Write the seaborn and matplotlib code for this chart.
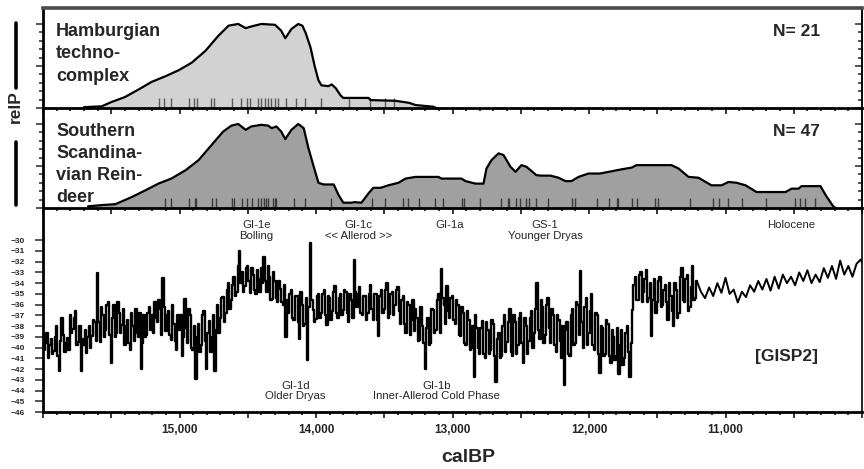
import numpy as np
import matplotlib
matplotlib.use("Agg")
import matplotlib.pyplot as plt
from matplotlib.lines import Line2D
from matplotlib.ticker import MultipleLocator, FixedLocator, FuncFormatter
import seaborn as sns

# --- Hamburgian techno-complex: summed probability (relP) -------------------
HAM_YEARS = [15700, 15570, 15500, 15400, 15300, 15205, 15100, 15005, 14910,
             14810, 14715, 14640, 14570, 14515, 14475, 14400, 14300, 14255,
             14225, 14180, 14130, 14100, 14075, 14040, 14010, 13982, 13960,
             13910, 13885, 13855, 13820, 13800, 13615, 13600, 13420, 13320,
             13270, 13140, 13120]
HAM_RELP = [0.01, 0.02, 0.07, 0.13, 0.22, 0.31, 0.38, 0.45, 0.54,
            0.68, 0.86, 0.98, 1.00, 0.95, 0.97, 1.00, 0.99, 0.92,
            0.83, 0.94, 1.00, 0.98, 0.89, 0.72, 0.50, 0.33, 0.27,
            0.26, 0.28, 0.235, 0.15, 0.12, 0.12, 0.094, 0.086, 0.062,
            0.035, 0.015, 0.0]
HAM_DATES = [15149, 15110, 15061, 14927, 14897, 14875, 14766, 14744, 14612,
             14548, 14502, 14480, 14426, 14401, 14372, 14348, 14328, 14304,
             14282, 14221, 14148, 14084, 13962, 13755, 13608, 13498, 13425]

# --- Southern Scandinavian Reindeer: summed probability (relP) --------------
SSR_YEARS = [15670, 15560, 15470, 15350, 15250, 15155, 15060, 14955, 14860,
             14765, 14680, 14620, 14570, 14515, 14475, 14400, 14350, 14325,
             14290, 14255, 14225, 14180, 14130, 14090, 14055, 14020, 13982,
             13945, 13870, 13835, 13800, 13740, 13718, 13667, 13615, 13580,
             13527, 13470, 13396, 13344, 13271, 13103, 13081, 12934, 12905,
             12832, 12773, 12751, 12714, 12663, 12626, 12575, 12538, 12495,
             12458, 12385, 12348, 12282, 12223, 12172, 12128, 12077, 12004,
             11920, 11857, 11762, 11689, 11652, 11396, 11344, 11271, 11198,
             11103, 11029, 10978, 10919, 10853, 10773, 10560, 10516, 10465,
             10443, 10304, 10267, 10209, 10190]
SSR_RELP = [0.02, 0.036, 0.045, 0.13, 0.21, 0.29, 0.35, 0.45, 0.57,
            0.75, 0.91, 0.98, 1.00, 0.93, 0.97, 0.99, 0.98, 0.95,
            0.97, 0.91, 0.82, 0.93, 1.00, 0.95, 0.71, 0.51, 0.30,
            0.28, 0.28, 0.155, 0.063, 0.063, 0.07, 0.063, 0.175, 0.24,
            0.24, 0.27, 0.30, 0.35, 0.37, 0.37, 0.35, 0.35, 0.32,
            0.29, 0.29, 0.47, 0.57, 0.65, 0.63, 0.49, 0.43, 0.51,
            0.49, 0.39, 0.385, 0.385, 0.36, 0.32, 0.32, 0.37, 0.41,
            0.41, 0.43, 0.46, 0.48, 0.51, 0.51, 0.47, 0.37, 0.36,
            0.27, 0.27, 0.31, 0.30, 0.27, 0.19, 0.19, 0.23, 0.23,
            0.26, 0.26, 0.155, 0.015, 0.0]
SSR_DATES = [15105, 15061, 14929, 14890, 14881, 14763, 14734, 14612, 14602,
             14544, 14504, 14470, 14426, 14401, 14382, 14368, 14348, 14314,
             14304, 14295, 14158, 14084, 13889, 13591, 13493, 13359, 13327,
             13249, 13127, 13073, 12932, 12917, 12797, 12643, 12595, 12585,
             12536, 12504, 12463, 12438, 12390, 12302, 12126, 12101, 11943,
             11857, 11796, 11789, 11686, 11650, 11515, 11491, 11259, 11088,
             11046, 10983, 10881, 10702, 10489, 10453, 10416, 10343]

# --- GISP2 d18O (per mil) --------------------------------------------------
# glacial part, samples on even decades (16000, 15980, ... 11220)
GISP_EVEN_YEARS = np.arange(16000, 11200, -20)
GISP_EVEN = [
    -38.8, -39.6, -41.0, -39.2, -40.3, -38.0, -42.2, -37.2, -40.4, -39.1,
    -37.0, -38.3, -36.6, -39.5, -42.2, -39.8, -40.5, -38.0, -38.9, -37.6,
    -33.1, -39.5, -37.0, -38.4, -35.8, -41.4, -36.0, -38.6, -36.8, -37.9,
    -39.8, -37.4, -40.2, -38.0, -36.4, -39.0, -42.0, -37.0, -38.8, -36.2,
    -37.0, -35.8, -37.6, -36.4, -33.5, -38.5, -36.6, -39.3, -37.8, -40.2,
    -38.4, -40.8, -35.5, -39.6, -37.0, -40.2, -42.9, -37.8, -39.8, -36.6,
    -42.0, -37.5, -39.0, -42.2, -36.0, -37.2, -35.3, -36.8, -34.0, -35.6,
    -33.4, -34.8, -31.0, -33.0, -34.3, -32.4, -34.9, -33.2, -35.0, -33.6,
    -32.6, -31.6, -34.8, -33.4, -35.5, -33.8, -35.8, -34.5, -36.0, -39.0,
    -36.8, -34.6, -37.4, -35.2, -39.2, -36.0, -37.8, -41.2, -30.3, -36.5,
    -37.3, -35.0, -36.8, -34.6, -37.9, -35.4, -36.6, -34.3, -37.2, -35.0,
    -36.5, -34.8, -37.6, -35.6, -31.8, -36.2, -34.4, -37.0, -35.2, -36.8,
    -34.2, -37.4, -35.0, -38.9, -34.6, -36.4, -34.0, -36.9, -34.8, -36.0,
    -34.4, -37.8, -35.2, -38.6, -36.0, -37.4, -38.5, -37.2, -39.3, -38.0,
    -42.0, -37.2, -39.6, -36.5, -38.4, -35.0, -32.7, -36.0, -34.3, -37.2,
    -35.2, -37.8, -36.0, -38.9, -36.8, -39.8, -37.4, -40.0, -42.7, -38.2,
    -40.6, -37.5, -41.0, -38.4, -40.2, -37.8, -43.2, -38.6, -40.8, -37.0,
    -39.5, -36.4, -40.8, -37.6, -39.8, -36.8, -41.4, -38.0, -39.4, -36.6,
    -38.6, -34.0, -39.2, -36.2, -38.8, -35.4, -39.6, -37.0, -40.4, -37.4,
    -41.0, -43.5, -37.6, -40.8, -36.4, -39.6, -36.0, -32.9, -40.0, -35.4,
    -38.6, -35.0, -40.2, -37.0, -42.4, -38.2, -40.6, -37.8, -41.4, -39.0,
    -40.8, -42.5, -38.4, -41.0, -38.0, -42.7, -36.5, -33.4, -35.6, -33.0,
    -34.8, -32.8, -35.4, -38.9, -33.6, -35.8, -33.4, -36.0, -34.2, -37.4,
    -35.2, -38.0, -34.6, -36.8, -32.6, -35.8, -33.2, -36.2, -32.4, -35.4,
]
# glacial part, samples on odd decades (15990, 15970, ... 11210)
GISP_ODD_YEARS = np.arange(15990, 11200, -20)
GISP_ODD = [
    -40.2, -38.6, -39.8, -40.6, -39.0, -40.8, -39.4, -38.8, -39.6, -40.2,
    -38.6, -37.2, -39.8, -38.0, -39.2, -38.4, -39.0, -40.0, -37.4, -39.4,
    -37.6, -36.2, -39.0, -36.0, -38.8, -37.2, -39.0, -35.8, -38.6, -36.4,
    -38.0, -39.6, -36.8, -39.4, -38.6, -36.8, -39.6, -39.0, -36.8, -38.4,
    -38.6, -37.2, -35.6, -38.8, -36.2, -37.0, -38.8, -36.0, -39.4, -37.0,
    -37.0, -39.0, -38.2, -36.4, -40.0, -38.0, -39.0, -40.4, -37.0, -39.4,
    -38.6, -40.4, -37.0, -38.4, -38.6, -35.4, -37.6, -34.6, -36.4, -34.2,
    -35.2, -32.4, -34.0, -34.8, -32.6, -33.8, -32.6, -34.6, -32.8, -34.8,
    -34.0, -33.8, -32.4, -35.6, -33.0, -35.4, -33.8, -35.8, -34.2, -35.6,
    -35.0, -37.2, -35.2, -37.6, -34.8, -38.0, -35.4, -36.2, -35.6, -37.6,
    -35.2, -37.2, -35.0, -37.0, -35.2, -37.4, -34.8, -36.8, -35.4, -37.0,
    -34.6, -36.8, -35.0, -37.2, -34.8, -35.0, -36.8, -35.2, -37.4, -35.0,
    -36.4, -35.0, -37.4, -35.2, -36.8, -34.6, -37.2, -35.0, -37.0, -34.6,
    -36.6, -35.6, -37.8, -35.8, -38.8, -35.6, -36.4, -39.4, -36.2, -39.6,
    -38.2, -39.8, -36.4, -38.6, -35.6, -38.6, -35.4, -37.8, -36.6, -35.4,
    -37.4, -35.6, -38.8, -36.2, -39.6, -36.6, -40.2, -38.0, -37.0, -40.0,
    -38.2, -40.6, -37.6, -40.6, -37.4, -40.8, -39.2, -41.0, -38.0, -40.4,
    -37.6, -40.4, -37.0, -40.6, -37.2, -39.6, -37.2, -40.6, -37.2, -40.0,
    -36.4, -38.4, -35.6, -39.6, -36.0, -38.2, -36.4, -39.8, -37.0, -39.4,
    -38.0, -38.4, -40.6, -37.0, -39.8, -35.8, -38.8, -37.6, -36.2, -39.8,
    -36.6, -39.8, -36.8, -40.6, -38.0, -40.8, -37.4, -40.8, -38.4, -41.2,
    -38.2, -39.8, -41.6, -38.6, -40.4, -39.6, -34.2, -35.6, -33.2, -35.8,
    -33.6, -35.8, -34.0, -35.6, -36.8, -33.8, -36.2, -34.6, -35.8, -34.0,
    -36.6, -34.0, -37.2, -33.4, -35.6, -33.6, -36.6, -34.4, -35.6, -33.8,
]
# Holocene part (lower resolution), 11210 ... 9980
GISP_HOLO_YEARS = np.arange(11210, 9950, -30)
GISP_HOLO = [
    -33.8, -34.8, -35.4, -34.4, -35.2, -34.0, -34.9, -33.5, -35.0, -34.6,
    -35.8, -34.8, -35.3, -34.2, -34.8, -33.8, -34.6, -33.6, -34.7, -33.4,
    -34.5, -33.2, -34.0, -33.4, -34.2, -33.0, -33.8, -32.8, -34.0, -33.2,
    -33.9, -32.6, -33.5, -32.4, -33.6, -31.9, -33.2, -32.4, -33.4, -32.2,
    -31.8, -32.6,
]

# period labels: (text, year)
PERIODS_TOP = [("GI-1e\nBolling", 14436), ("GI-1c\n<< Allerod >>", 13689),
               ("GI-1a\n", 13017), ("GS-1\nYounger Dryas", 12321),
               ("Holocene\n", 10516)]
PERIODS_LOW = [("GI-1d\nOlder Dryas", 14152),
               ("GI-1b\nInner-Allerod Cold Phase", 13117)]

sns.set_style("ticks")
plt.rcParams["font.family"] = ["Liberation Sans", "DejaVu Sans"]

W, H = 864, 469
fig = plt.figure(figsize=(W / 100, H / 100), dpi=100)
fig.patch.set_facecolor("white")


def box(top, bottom):
    return [43 / W, 1 - bottom / H, 819 / W, (bottom - top) / H]


ax_top = fig.add_axes(box(8, 108))
ax_mid = fig.add_axes(box(108, 208))
ax_bot = fig.add_axes(box(208, 412))

for ax in (ax_top, ax_mid, ax_bot):
    ax.set_facecolor("none")
    ax.xaxis.set_major_locator(MultipleLocator(500))
    ax.xaxis.set_minor_locator(MultipleLocator(100))
    ax.tick_params(axis="x", which="major", length=4.5, width=1.1,
                   direction="out", color="black")
    ax.tick_params(axis="x", which="minor", length=2.5, width=1.1,
                   direction="out", color="black")
    for side in ("left", "bottom"):
        ax.spines[side].set_linewidth(2.0)
        ax.spines[side].set_color("black")
    ax.spines["right"].set_linewidth(1.2)
    ax.spines["right"].set_color("black")


def spd_panel(ax, years, relp, dates, fill, rug_color, label, n_text,
              label_y, spacing):
    ax.fill_between(years, relp, 0, color=fill, lw=0, zorder=1)
    sns.rugplot(x=dates, ax=ax, height=0.1, color=rug_color, lw=1.0,
                expand_margins=False, zorder=2)
    sns.lineplot(x=years, y=relp, ax=ax, color="black", lw=1.6,
                 estimator=None, zorder=3)
    ax.set_xlim(16000, 10000)
    ax.set_ylim(0, 1.19)
    ax.set_xlabel("")
    ax.set_ylabel("")
    ax.yaxis.set_major_locator(FixedLocator([0, 0.5, 1.0]))
    ax.yaxis.set_minor_locator(FixedLocator(np.arange(0, 1.01, 0.1)))
    ax.tick_params(axis="y", which="major", length=5, width=1.1,
                   direction="out", labelleft=False)
    ax.tick_params(axis="y", which="minor", length=3, width=1.1,
                   direction="out")
    ax.tick_params(axis="x", labelbottom=False)
    sec = ax.secondary_yaxis("right")
    sec.yaxis.set_major_locator(FixedLocator([0, 0.5, 1.0]))
    sec.yaxis.set_minor_locator(FixedLocator(np.arange(0, 1.01, 0.1)))
    sec.tick_params(which="major", length=5, width=1.1, direction="in",
                    labelright=False)
    sec.tick_params(which="minor", length=3, width=1.1, direction="in")
    sec.spines["right"].set_linewidth(1.2)
    ax.text(0.016, label_y, label, transform=ax.transAxes, ha="left",
            va="top", fontsize=13, fontweight="bold", linespacing=spacing)
    ax.text(0.949, 0.77, n_text, transform=ax.transAxes, ha="right",
            va="center", fontsize=12.5, fontweight="bold")


spd_panel(ax_top, HAM_YEARS, HAM_RELP, HAM_DATES, "#d2d2d2", "#5a5a5a",
          "Hamburgian\ntechno-\ncomplex", "N= 21", 0.85, 1.42)
spd_panel(ax_mid, SSR_YEARS, SSR_RELP, SSR_DATES, "#a0a0a0", "#3c3c3c",
          "Southern\nScandina-\nvian Rein-\ndeer", "N= 47", 0.845, 1.36)
ax_top.spines["top"].set_linewidth(2.6)
ax_top.spines["top"].set_color("#4a4a4a")
ax_mid.spines["top"].set_visible(False)

# GISP2 panel: dense glacial section, thinner Holocene section
glacial_years = np.concatenate([GISP_EVEN_YEARS, GISP_ODD_YEARS])
glacial_vals = np.array(GISP_EVEN + GISP_ODD)
sns.lineplot(x=glacial_years, y=glacial_vals, ax=ax_bot, color="black",
             lw=1.7, estimator=None, drawstyle="steps-mid")
sns.lineplot(x=GISP_HOLO_YEARS, y=GISP_HOLO, ax=ax_bot, color="black",
             lw=1.4, estimator=None)
ax_bot.set_xlim(16000, 10000)
ax_bot.set_ylim(-46, -27)
ax_bot.set_xlabel("")
ax_bot.set_ylabel("")
ax_bot.spines["top"].set_visible(False)
ax_bot.yaxis.set_major_locator(FixedLocator(np.arange(-46, -29)))
ax_bot.tick_params(axis="y", which="major", length=6, width=1.1,
                   direction="out", pad=7, labelsize=6)
for lab in ax_bot.get_yticklabels():
    lab.set_fontweight("bold")
ax_bot.xaxis.set_major_formatter(FuncFormatter(
    lambda v, _: f"{int(v):,}" if v % 1000 == 0 and 10500 < v < 15500 else ""))
ax_bot.tick_params(axis="x", which="major", labelsize=8.5, pad=4)
for lab in ax_bot.get_xticklabels():
    lab.set_fontweight("bold")

for text, year in PERIODS_TOP:
    ax_bot.text(year, -29.1, text, ha="center", va="center", fontsize=8.2,
                linespacing=1.05)
for text, year in PERIODS_LOW:
    ax_bot.text(year, -44.05, text, ha="center", va="center", fontsize=8.2,
                linespacing=1.05)
ax_bot.text(10553, -40.86, "[GISP2]", ha="center", va="center",
            fontsize=12.5, fontweight="bold")

# shared y label "relP" with bars above and below
fig.text(15 / W, 1 - 107 / H, "relP", rotation=90, ha="center", va="center",
         fontsize=12.5, fontweight="bold")
fig.add_artist(Line2D([16 / W, 16 / W], [1 - 23 / H, 1 - 88 / H],
                      lw=2.6, color="black"))
fig.add_artist(Line2D([16 / W, 16 / W], [1 - 142 / H, 1 - 205 / H],
                      lw=2.6, color="black"))
fig.text(468 / W, 1 - 457 / H, "calBP", ha="center", va="center",
         fontsize=14, fontweight="bold")

fig.savefig("out.png", dpi=100)
